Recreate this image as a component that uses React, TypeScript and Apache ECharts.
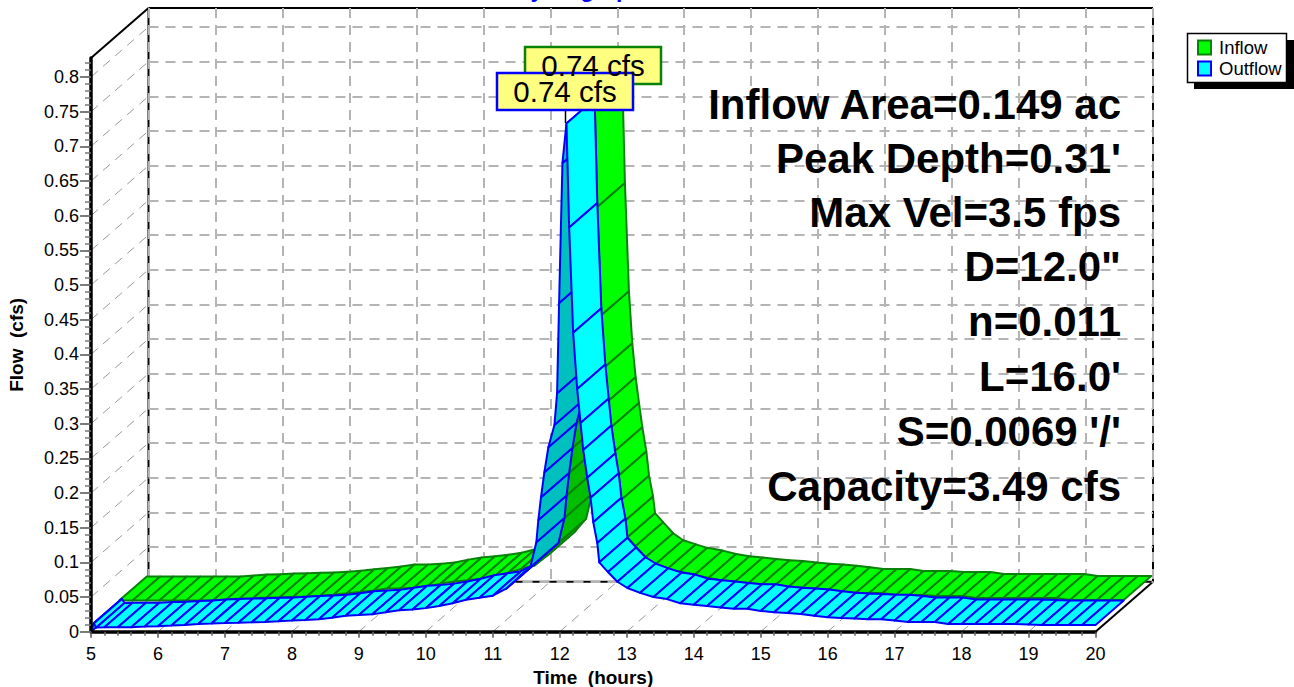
import React, { useEffect, useRef } from "react";
import * as echarts from "echarts";

const yTop = 0.8273;
const xTickValues = [5, 6, 7, 8, 9, 10, 11, 12, 13, 14, 15, 16, 17, 18, 19, 20];
const yTickValues = [0, 0.05, 0.1, 0.15, 0.2, 0.25, 0.3, 0.35, 0.4, 0.45, 0.5, 0.55, 0.6, 0.65, 0.7, 0.75, 0.8];
const yMinorValues = [0, 0.01, 0.02, 0.03, 0.04, 0.05, 0.06, 0.07, 0.08, 0.09, 0.1, 0.11, 0.12, 0.13, 0.14, 0.15, 0.16, 0.17, 0.18, 0.19, 0.2, 0.21, 0.22, 0.23, 0.24, 0.25, 0.26, 0.27, 0.28, 0.29, 0.3, 0.31, 0.32, 0.33, 0.34, 0.35, 0.36, 0.37, 0.38, 0.39, 0.4, 0.41, 0.42, 0.43, 0.44, 0.45, 0.46, 0.47, 0.48, 0.49, 0.5, 0.51, 0.52, 0.53, 0.54, 0.55, 0.56, 0.57, 0.58, 0.59, 0.6, 0.61, 0.62, 0.63, 0.64, 0.65, 0.66, 0.67, 0.68, 0.69, 0.7, 0.71, 0.72, 0.73, 0.74, 0.75, 0.76, 0.77, 0.78, 0.79, 0.8, 0.81, 0.82];

const outflowTimes = [5, 5.04, 5.08, 5.2, 5.4, 5.6, 5.8, 6, 6.2, 6.4, 6.6, 6.8, 7, 7.2, 7.4, 7.6, 7.8, 8, 8.2, 8.4, 8.6, 8.8, 9, 9.2, 9.4, 9.6, 9.8, 10, 10.2, 10.4, 10.6, 10.8, 11, 11.2, 11.4, 11.56, 11.65, 11.68, 11.72, 11.77, 11.83, 11.92, 11.96, 11.99, 12.04, 12.1, 12.14, 12.2, 12.26, 12.31, 12.35, 12.41, 12.46, 12.5, 12.56, 12.59, 12.72, 12.86, 13.01, 13.2, 13.4, 13.6, 13.8, 14, 14.2, 14.4, 14.6, 14.8, 15, 15.2, 15.4, 15.6, 15.8, 16, 16.2, 16.4, 16.6, 16.8, 17, 17.2, 17.4, 17.6, 17.8, 18, 18.2, 18.4, 18.6, 18.8, 19, 19.2, 19.4, 19.6, 19.8, 20];
const outflowValues = [0, 0.012, 0.006, 0.0065, 0.0065, 0.0065, 0.0075, 0.008, 0.009, 0.0095, 0.011, 0.012, 0.0125, 0.013, 0.0135, 0.014, 0.015, 0.016, 0.017, 0.018, 0.02, 0.023, 0.024, 0.025, 0.028, 0.031, 0.032, 0.034, 0.037, 0.041, 0.046, 0.049, 0.052, 0.062, 0.08, 0.093, 0.129, 0.161, 0.194, 0.23, 0.266, 0.298, 0.344, 0.474, 0.676, 0.733, 0.583, 0.431, 0.35, 0.301, 0.262, 0.222, 0.193, 0.158, 0.128, 0.1, 0.086, 0.072, 0.063, 0.056, 0.05, 0.047, 0.041, 0.039, 0.037, 0.035, 0.033, 0.033, 0.03, 0.028, 0.027, 0.0255, 0.023, 0.021, 0.0197, 0.019, 0.018, 0.018, 0.016, 0.014, 0.014, 0.014, 0.011, 0.011, 0.011, 0.011, 0.011, 0.011, 0.0105, 0.0095, 0.0095, 0.0095, 0.0095, 0.0095];

const inflowTimes = [5, 5.2, 5.4, 5.6, 5.8, 6, 6.2, 6.4, 6.6, 6.8, 7, 7.2, 7.4, 7.6, 7.8, 8, 8.2, 8.4, 8.6, 8.8, 9, 9.2, 9.4, 9.6, 9.8, 10, 10.2, 10.4, 10.6, 10.8, 11, 11.2, 11.4, 11.56, 11.65, 11.68, 11.72, 11.77, 11.83, 11.92, 11.96, 11.99, 12.04, 12.1, 12.14, 12.2, 12.25, 12.3, 12.35, 12.4, 12.46, 12.5, 12.56, 12.59, 12.71, 12.86, 13.01, 13.2, 13.37, 13.6, 13.8, 14, 14.2, 14.4, 14.6, 14.8, 15, 15.2, 15.4, 15.6, 15.8, 16, 16.2, 16.4, 16.6, 16.8, 17, 17.2, 17.4, 17.6, 17.8, 18, 18.2, 18.4, 18.6, 18.8, 19, 19.2, 19.4, 19.6, 19.8, 20];
const inflowValues = [0.0095, 0.0095, 0.0095, 0.0095, 0.0095, 0.0097, 0.0097, 0.0097, 0.011, 0.0125, 0.013, 0.014, 0.0145, 0.015, 0.0155, 0.0165, 0.018, 0.02, 0.022, 0.024, 0.027, 0.027, 0.028, 0.03, 0.034, 0.037, 0.039, 0.041, 0.044, 0.049, 0.055, 0.06, 0.075, 0.093, 0.129, 0.161, 0.194, 0.23, 0.266, 0.298, 0.344, 0.474, 0.676, 0.733, 0.577, 0.421, 0.346, 0.297, 0.26, 0.225, 0.19, 0.155, 0.125, 0.101, 0.088, 0.072, 0.062, 0.056, 0.051, 0.047, 0.042, 0.039, 0.037, 0.035, 0.033, 0.032, 0.03, 0.028, 0.027, 0.025, 0.023, 0.0205, 0.0205, 0.0205, 0.0176, 0.0176, 0.0176, 0.016, 0.016, 0.016, 0.0133, 0.0133, 0.0133, 0.0133, 0.0133, 0.0133, 0.0133, 0.0104, 0.0104, 0.0104, 0.0104, 0.0104];

const annotationLines = ["Inflow Area=0.149 ac", "Peak Depth=0.31'", "Max Vel=3.5 fps", 'D=12.0"', "n=0.011", "L=16.0'", "S=0.0069 '/'", "Capacity=3.49 cfs"];
const annotationY = [104, 158, 212, 266, 321, 376, 431, 486];
const peakLabel = "0.74 cfs";
const FONT = '"Liberation Sans", Arial, sans-serif';

const DEPTH_X = 57.5;
const DEPTH_Y = 50;
const depth = (p: number[], z: number) => [p[0] + DEPTH_X * z, p[1] - DEPTH_Y * z];

function ribbon(name: string, times: number[], values: number[], z0: number, z1: number, fill: string, dark: string, stroke: string, order: number) {
  const pts = times.map((t, i) => [t, values[i]]);
  return {
    type: "custom",
    name,
    coordinateSystem: "cartesian2d",
    xAxisIndex: 0,
    yAxisIndex: 0,
    data: pts,
    encode: { x: 0, y: 1 },
    clip: false,
    silent: true,
    z: order,
    itemStyle: { color: fill, borderColor: stroke, borderWidth: 2 },
    renderItem: (params: any, api: any) => {
      const i = params.dataIndex;
      if (i >= pts.length - 1) return null;
      const p0 = api.coord(pts[i]);
      const p1 = api.coord(pts[i + 1]);
      const rise = (p0[1] - p1[1]) / Math.max(p1[0] - p0[0], 0.001);
      return {
        type: "polygon",
        shape: { points: [depth(p0, z0), depth(p1, z0), depth(p1, z1), depth(p0, z1)] },
        style: { fill: rise > (DEPTH_Y / DEPTH_X) * 1.02 ? dark : fill, stroke, lineWidth: 2, lineJoin: "round" },
      };
    },
  };
}

// segments of the 3D box: from [t, v, z] to [t, v, z]
const frameSegments = [
  [5, yTop, 0, 5, yTop, 1],
  [5, yTop, 1, 20, yTop, 1],
  [5, yTop, 1, 5, 0, 1],
  [5, 0, 1, 20, 0, 1],
  [20, yTop, 1, 20, 0, 1],
  [20, 0, 0, 20, 0, 1],
];

function segmentSeries(data: number[][], style: any, order: number) {
  return {
    type: "custom",
    coordinateSystem: "cartesian2d",
    xAxisIndex: 0,
    yAxisIndex: 0,
    data,
    encode: { x: [0, 3], y: [1, 4] },
    clip: false,
    silent: true,
    z: order,
    renderItem: (_: any, api: any) => {
      const a = depth(api.coord([api.value(0), api.value(1)]), api.value(2));
      const b = depth(api.coord([api.value(3), api.value(4)]), api.value(5));
      return { type: "line", shape: { x1: a[0], y1: a[1], x2: b[0], y2: b[1] }, style };
    },
  };
}

const wallDiagonals = yTickValues.slice(1).map((v) => [5, v, 0, 5, v, 1]);
const floorDiagonals = xTickValues.slice(1, -1).map((t) => [t, 0, 0, t, 0, 1]);

function peakBox(x: number, y: number, border: string) {
  return {
    type: "group",
    x,
    y,
    children: [
      { type: "rect", z: 20, shape: { x: 0, y: 0, width: 136, height: 37 }, style: { fill: "#FFFF80", stroke: border, lineWidth: 2.5 } },
      { type: "text", z: 21, x: 68, y: 18, style: { text: peakLabel, fill: "#000", font: `29.5px ${FONT}`, textAlign: "center", textVerticalAlign: "middle" } },
    ],
  };
}

export default function App() {
  const ref = useRef<HTMLDivElement>(null);
  useEffect(() => {
    document.body.style.margin = "0";
    const chart = echarts.init(ref.current!, null, { renderer: "svg" });
    const grey = "#B4B4B4";
    const dashed = { show: true, lineStyle: { color: grey, width: 2, type: [10, 7] } };
    chart.setOption({
      animation: false,
      backgroundColor: "#fff",
      textStyle: { fontFamily: FONT },
      title: {
        text: "Hydrograph",
        left: 574,
        textAlign: "center",
        top: -28,
        textStyle: { color: "#0000FF", fontSize: 23, fontWeight: "bold", fontFamily: FONT },
      },
      legend: {
        data: ["Inflow", "Outflow"],
        orient: "vertical",
        left: 1197,
        top: 38,
        padding: 0,
        itemGap: 2,
        itemWidth: 13,
        itemHeight: 14,
        icon: "rect",
        selectedMode: false,
        textStyle: { fontSize: 18.5, color: "#000", fontFamily: FONT, padding: [0, 0, 0, 3] },
        z: 12,
      },
      grid: [
        { left: 91, top: 58, width: 1004.5, height: 573.7, outerBoundsMode: "none" },
        { left: 148.5, top: 8, width: 1004.5, height: 573.7, outerBoundsMode: "none" },
      ],
      xAxis: [
        {
          type: "value",
          gridIndex: 0,
          min: 5,
          max: 20,
          interval: 1,
          z: 3,
          name: "Time  (hours)",
          nameLocation: "middle",
          nameGap: 35,
          nameTextStyle: { fontSize: 19, fontWeight: "bold", color: "#000", fontFamily: FONT },
          axisLine: { show: true, onZero: false, lineStyle: { color: "#000", width: 3.5 } },
          axisTick: { show: true, length: 6, lineStyle: { color: "#555", width: 1.5 } },
          minorTick: { show: true, splitNumber: 5, length: 4, lineStyle: { color: "#666", width: 1.5 } },
          axisLabel: { fontSize: 18, color: "#000", margin: 13, fontFamily: FONT },
          splitLine: { show: false },
        },
        {
          type: "value",
          gridIndex: 1,
          min: 5,
          max: 20,
          interval: 1,
          z: 1,
          axisLine: { show: false },
          axisTick: { show: false },
          axisLabel: { show: false },
          splitLine: dashed,
        },
      ],
      yAxis: [
        {
          type: "value",
          gridIndex: 0,
          position: "left",
          min: 0,
          max: yTop,
          z: 3,
          name: "Flow  (cfs)",
          nameLocation: "middle",
          nameGap: 65,
          nameTextStyle: { fontSize: 19, fontWeight: "bold", color: "#000", fontFamily: FONT },
          axisLine: { show: true, onZero: false, lineStyle: { color: "#000", width: 3.5 } },
          axisTick: { show: true, length: 11, customValues: yTickValues, lineStyle: { color: "#555", width: 1.5 } },
          axisLabel: { fontSize: 18, color: "#000", margin: 12, customValues: yTickValues, fontFamily: FONT },
          splitLine: { show: false },
        },
        {
          type: "value",
          gridIndex: 0,
          position: "left",
          min: 0,
          max: yTop,
          z: 3,
          axisLine: { show: false },
          axisTick: { show: true, length: 6, customValues: yMinorValues, lineStyle: { color: "#777", width: 1.5 } },
          axisLabel: { show: false },
          splitLine: { show: false },
        },
        {
          type: "value",
          gridIndex: 1,
          min: 0,
          max: yTop,
          interval: 0.05,
          z: 1,
          axisLine: { show: false },
          axisTick: { show: false },
          axisLabel: { show: false },
          splitLine: { ...dashed, showMaxLine: false },
        },
      ],
      series: [
        segmentSeries(frameSegments, { stroke: "#000", lineWidth: 2 }, 0),
        segmentSeries(wallDiagonals, { stroke: "#999", lineWidth: 1, lineDash: [9, 7] }, 1),
        segmentSeries(floorDiagonals, { stroke: "#999", lineWidth: 1, lineDash: [9, 7] }, 1),
        ribbon("Inflow", inflowTimes, inflowValues, 0.49, 0.97, "#00FF00", "#00BF00", "#0A820A", 2),
        ribbon("Outflow", outflowTimes, outflowValues, 0, 0.49, "#00FFFF", "#00BFBF", "#0000FF", 3),
      ],
      graphic: [
        { type: "line", z: 19, shape: { x1: 565.5, y1: 108, x2: 565.5, y2: 123 }, style: { stroke: "#000", lineWidth: 1.5 } },
        peakBox(525, 47, "#0A820A"),
        peakBox(497, 73, "#0000FF"),
        ...annotationLines.map((text, i) => ({
          type: "text",
          z: 10,
          x: 1121,
          y: annotationY[i],
          style: { text, fill: "#000", font: `bold 42px ${FONT}`, textAlign: "right", textVerticalAlign: "middle" },
        })),
        { type: "rect", z: 10, shape: { x: 1194, y: 40, width: 100, height: 49 }, style: { fill: "#000" } },
        { type: "rect", z: 11, shape: { x: 1187.5, y: 33.5, width: 99, height: 49 }, style: { fill: "#fff", stroke: "#000", lineWidth: 1.5 } },
      ],
    });
    return () => chart.dispose();
  }, []);
  return <div ref={ref} style={{ width: 1294, height: 687 }} />;
}
